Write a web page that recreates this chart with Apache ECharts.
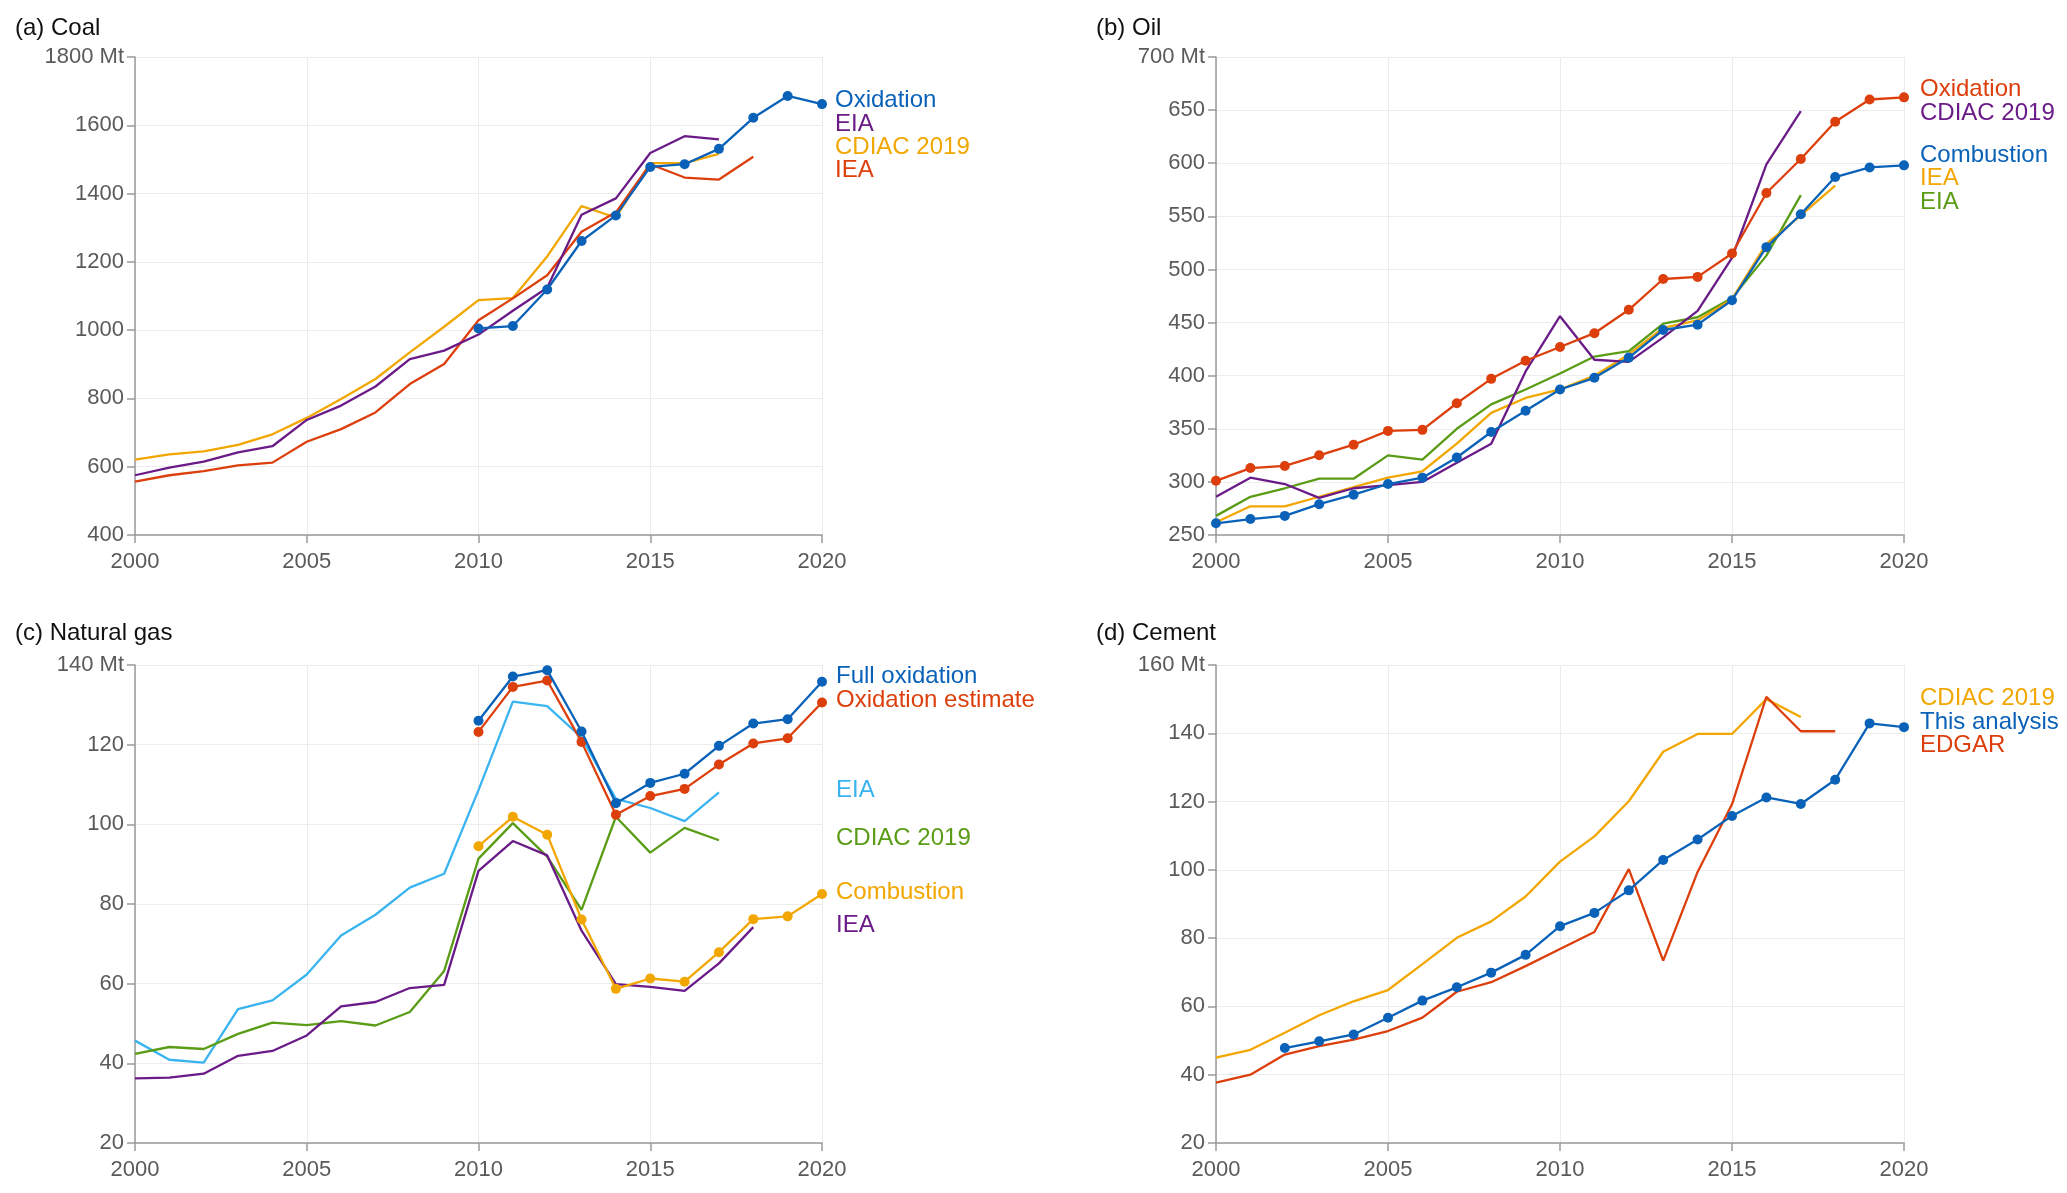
<!DOCTYPE html>
<html>
<head>
<meta charset="utf-8">
<script src="https://cdn.jsdelivr.net/npm/echarts@6/dist/echarts.min.js"></script>
<style>
html,body{margin:0;padding:0;background:#fff;}
#chart{width:2067px;height:1193px;}
</style>
</head>
<body>
<div id="chart"></div>
<script>
// ---------- data ----------
const years = [2000,2001,2002,2003,2004,2005,2006,2007,2008,2009,2010,2011,2012,2013,2014,2015,2016,2017,2018,2019,2020];
const xTicks = [2000,2005,2010,2015,2020];

// (a) Coal
const coalOxidation = [null,null,null,null,null,null,null,null,null,null,1005,1012,1119,1261,1336,1478,1486,1531,1622,1686,1662];
const coalEIA = [575,597,615,642,660,737,779,835,915,940,987,1057,1124,1338,1386,1519,1568,1559,null,null,null];
const coalCDIAC = [621,636,645,664,695,743,798,857,935,1010,1088,1094,1216,1363,1330,1489,1489,1516,null,null,null];
const coalIEA = [556,575,587,604,612,673,710,759,842,901,1029,1093,1161,1288,1345,1486,1447,1441,1508,null,null];

// (b) Oil
const oilOxidation = [301,313,315,325,335,348,349,374,397,414,427,440,462,491,493,515,572,604,639,660,662];
const oilCombustion = [261,265,268,279,288,298,304,323,347,367,387,398,417,443,448,471,521,552,587,596,598];
const oilCDIAC = [286,304,298,285,294,297,300,318,336,404,456,415,413,436,461,511,599,649,null,null,null];
const oilIEA = [262,277,277,286,295,304,310,336,365,379,387,400,420,445,452,472,524,551,579,null,null];
const oilEIA = [268,286,294,303,303,325,321,350,373,387,402,418,423,449,455,473,513,570,null,null,null];

// (c) Natural gas
const gasFullOxidation = [null,null,null,null,null,null,null,null,null,null,126.0,137.1,138.7,123.3,105.3,110.4,112.7,119.7,125.3,126.4,135.8];
const gasOxidationEst = [null,null,null,null,null,null,null,null,null,null,123.2,134.5,136.1,120.7,102.4,107.1,108.9,115.0,120.3,121.6,130.6];
const gasEIA = [45.7,40.9,40.2,53.6,55.8,62.3,72.1,77.3,84.1,87.6,108.6,130.8,129.7,121.8,106.4,104.1,100.8,108.0,null,null,null];
const gasCDIAC = [42.4,44.1,43.6,47.4,50.2,49.6,50.6,49.5,52.9,63.2,91.4,100.3,91.9,78.5,101.9,92.9,99.1,96.0,null,null,null];
const gasCombustion = [null,null,null,null,null,null,null,null,null,null,94.5,101.9,97.4,76.1,58.7,61.3,60.5,67.9,76.2,76.9,82.5];
const gasIEA = [36.2,36.4,37.4,41.9,43.1,47.0,54.3,55.4,58.9,59.7,88.3,95.8,92.2,73.3,59.9,59.2,58.2,65.1,74.2,null,null];

// (d) Cement
const cementThisAnalysis = [null,null,47.8,49.8,51.8,56.7,61.7,65.6,69.9,75.1,83.5,87.4,94.0,102.9,108.9,115.8,121.2,119.3,126.4,142.9,141.8];
const cementCDIAC = [45.0,47.3,52.3,57.4,61.5,64.8,72.4,80.1,84.9,92.2,102.4,109.8,120.1,134.6,139.8,139.8,150.0,144.8,null,null,null];
const cementEDGAR = [37.7,40.0,45.9,48.4,50.3,52.8,56.7,64.3,67.1,71.8,76.8,81.8,100.2,73.4,99.4,119.2,150.7,140.6,140.6,null,null];

// y-axis tick labels
const coalTicks = [400,600,800,1000,1200,1400,1600,1800];
const oilTicks = [250,300,350,400,450,500,550,600,650,700];
const gasTicks = [20,40,60,80,100,120,140];
const cementTicks = [20,40,60,80,100,120,140,160];

const panelTitles = ['(a) Coal','(b) Oil','(c) Natural gas','(d) Cement'];

// ---------- styling ----------
const C = {
  blue:'#0a62b8', purple:'#6a1b88', orange:'#f2a600', red:'#dd3f0c', green:'#5a9c16', sky:'#3ab4f0'
};
const FONT = '"Liberation Sans", Arial, Helvetica, sans-serif';
const FS = 24;      // titles and series labels
const TFS = 22;     // tick labels

function pairs(arr){ return years.map((y,i)=>[y,arr[i]]).filter(d=>d[1]!=null); }

const gridPos = [
  {left:135, top:57, width:687, height:478},
  {left:1216, top:57, width:688, height:478},
  {left:135, top:665, width:687, height:478},
  {left:1216, top:665, width:688, height:478}
];
const yTicksAll = [coalTicks, oilTicks, gasTicks, cementTicks];

const grids = gridPos.map(g=>Object.assign({containLabel:false}, g));
const xAxes = gridPos.map((g,i)=>({
  type:'value', gridIndex:i, min:xTicks[0], max:xTicks[xTicks.length-1], interval:5,
  axisLine:{show:true, onZero:false, lineStyle:{color:'#9a9a9a', width:1.5}},
  axisTick:{show:true, length:8, lineStyle:{color:'#9a9a9a', width:1.5}},
  axisLabel:{color:'#5a5a5a', fontSize:TFS, fontFamily:FONT, margin:16, formatter:v=>String(v)},
  splitLine:{show:true, lineStyle:{color:'#ececec', width:1}}
}));
const yAxes = yTicksAll.map((t,i)=>({
  type:'value', gridIndex:i, min:t[0], max:t[t.length-1], interval:t[1]-t[0],
  axisLine:{show:true, lineStyle:{color:'#9a9a9a', width:1.5}},
  axisTick:{show:true, length:8, lineStyle:{color:'#9a9a9a', width:1.5}},
  axisLabel:{color:'#5a5a5a', fontSize:TFS, fontFamily:FONT, margin:11,
    formatter:v=> v===t[t.length-1] ? v+' Mt' : String(v)},
  splitLine:{show:true, lineStyle:{color:'#ececec', width:1}}
}));

function line(idx, arr, color, dots, z){
  return {
    type:'line', xAxisIndex:idx, yAxisIndex:idx, data:pairs(arr),
    showSymbol:dots, symbol:'circle', symbolSize:dots?10:0,
    lineStyle:{color:color, width:2.3}, itemStyle:{color:color},
    z: z || 2, animation:false, silent:true
  };
}

const series = [
  line(0, coalCDIAC, C.orange, false),
  line(0, coalIEA, C.red, false),
  line(0, coalEIA, C.purple, false),
  line(0, coalOxidation, C.blue, true, 5),

  line(1, oilEIA, C.green, false),
  line(1, oilIEA, C.orange, false),
  line(1, oilCDIAC, C.purple, false),
  line(1, oilCombustion, C.blue, true, 5),
  line(1, oilOxidation, C.red, true, 5),

  line(2, gasEIA, C.sky, false),
  line(2, gasCDIAC, C.green, false),
  line(2, gasIEA, C.purple, false),
  line(2, gasCombustion, C.orange, true, 5),
  line(2, gasOxidationEst, C.red, true, 5),
  line(2, gasFullOxidation, C.blue, true, 6),

  line(3, cementCDIAC, C.orange, false),
  line(3, cementEDGAR, C.red, false),
  line(3, cementThisAnalysis, C.blue, true, 5)
];

// ---------- text: titles and series labels ----------
const titlePos = [[15,29],[1096,29],[15,634],[1096,634]];
const labels = [
  [835,101,'Oxidation',C.blue],[835,125,'EIA',C.purple],[835,148,'CDIAC 2019',C.orange],[835,171,'IEA',C.red],
  [1920,90,'Oxidation',C.red],[1920,114,'CDIAC 2019',C.purple],[1920,156,'Combustion',C.blue],[1920,179,'IEA',C.orange],[1920,203,'EIA',C.green],
  [836,677,'Full oxidation',C.blue],[836,701,'Oxidation estimate',C.red],[836,791,'EIA',C.sky],[836,839,'CDIAC 2019',C.green],[836,893,'Combustion',C.orange],[836,926,'IEA',C.purple],
  [1920,699,'CDIAC 2019',C.orange],[1920,723,'This analysis',C.blue],[1920,746,'EDGAR',C.red]
];

const graphic = [];
panelTitles.forEach((t,i)=>{
  graphic.push({type:'text', left:titlePos[i][0], top:titlePos[i][1]-FS/2-1, silent:true,
    style:{text:t, fill:'#111', font:`${FS}px ${FONT}`}});
});
labels.forEach(l=>{
  graphic.push({type:'text', left:l[0], top:l[1]-FS/2-1, silent:true,
    style:{text:l[2], fill:l[3], font:`${FS}px ${FONT}`}});
});

const chart = echarts.init(document.getElementById('chart'), null, {renderer:'canvas'});
chart.setOption({
  backgroundColor:'#ffffff',
  animation:false,
  grid:grids, xAxis:xAxes, yAxis:yAxes, series:series, graphic:graphic
});
</script>
</body>
</html>
